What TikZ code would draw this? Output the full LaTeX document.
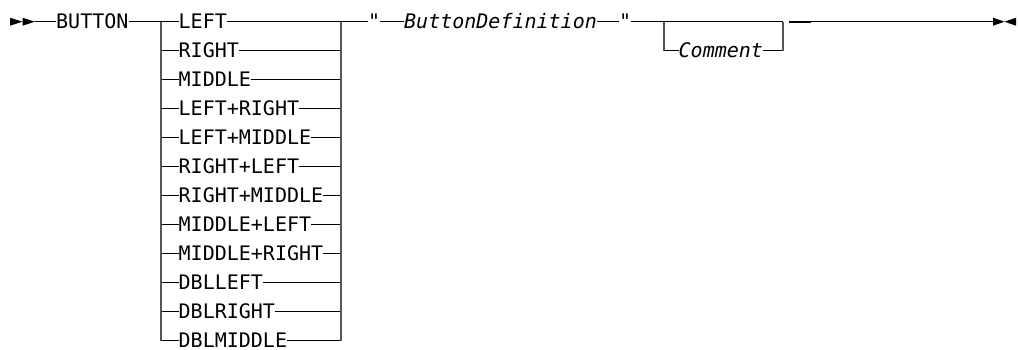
\documentclass[tikz,border=0pt]{standalone}
\usepackage{fontspec}
\newfontfamily\kwfont{DejaVu Sans Mono}
\definecolor{vgray}{HTML}{555555}
\begin{document}
\begin{tikzpicture}[x=1pt,y=-1pt,
  hl/.style={line width=1.2pt,black},
  vl/.style={line width=1.6pt,vgray},
  kw/.style={anchor=west,inner sep=0pt,text height=15pt,text depth=1.8pt,font=\kwfont\fontsize{20}{24}\selectfont},
  var/.style={kw,font=\kwfont\fontsize{20}{24}\selectfont\itshape}]
\useasboundingbox (0,0) rectangle (1018,350);
% start / end marks
\fill (10,17.7) -- (22.5,21.7) -- (10,25.7) -- cycle;
\fill (22.5,17.7) -- (35,21.7) -- (22.5,25.7) -- cycle;
\coordinate (s) at (35,21.7);
\fill (993,17.7) -- (1004.5,21.7) -- (993,25.7) -- cycle;
\fill (1016,17.7) -- (1004.5,21.7) -- (1016,25.7) -- cycle;
\coordinate (e) at (993,21.7);
% nodes
\node[kw] (button) at (56,21.7) {BUTTON};
\foreach \t [count=\i from 0] in {LEFT,RIGHT,MIDDLE,LEFT+RIGHT,LEFT+MIDDLE,RIGHT+LEFT,RIGHT+MIDDLE,MIDDLE+LEFT,MIDDLE+RIGHT,DBLLEFT,DBLRIGHT,DBLMIDDLE}
  \node[kw] (r\i) at (178.5,{21.7+29*\i}) {\t};
\node[var] (q1) at (368,21.7) {"};
\node[var] (bd) at (404,21.7) {ButtonDefinition};
\node[var] (q2) at (619,21.7) {"};
\node[var] (cm) at (678.5,50.7) {Comment};
% junction coordinates
\coordinate (lt) at (161,21.7);
\coordinate (lb) at (161,340.7);
\coordinate (rt) at (341,21.7);
\coordinate (rb) at (341,340.7);
\coordinate (c1) at (664,21.7);
\coordinate (c2) at (783,21.7);
\coordinate (d1) at (789,21.7);
\coordinate (d2) at (811,21.7);
% connectors
\draw[hl] (s) -- (button.west);
\draw[hl] (button.east) -- (r0.west);
\draw[hl] (r0.east) -- (q1.west);
\foreach \i in {1,...,11}{
  \draw[hl] (lt |- r\i.west) -- (r\i.west);
  \draw[hl] (r\i.east) -- (rt |- r\i.east);
}
\draw[vl] (lt) -- (lb);
\draw[vl] (rt) -- (rb);
\draw[hl] (q1.east) -- (bd.west);
\draw[hl] (bd.east) -- (q2.west);
\draw[hl] (q2.east) -- (c2);
\draw[vl] (c1) -- (c1 |- cm.west);
\draw[hl] (c1 |- cm.west) -- (cm.west);
\draw[hl] (cm.east) -- (c2 |- cm.east);
\draw[vl] (c2 |- cm.east) -- (c2);
\draw[line width=1.8pt] (d1) -- (d2);
\draw[hl] (d2) -- (e);
\end{tikzpicture}
\end{document}
